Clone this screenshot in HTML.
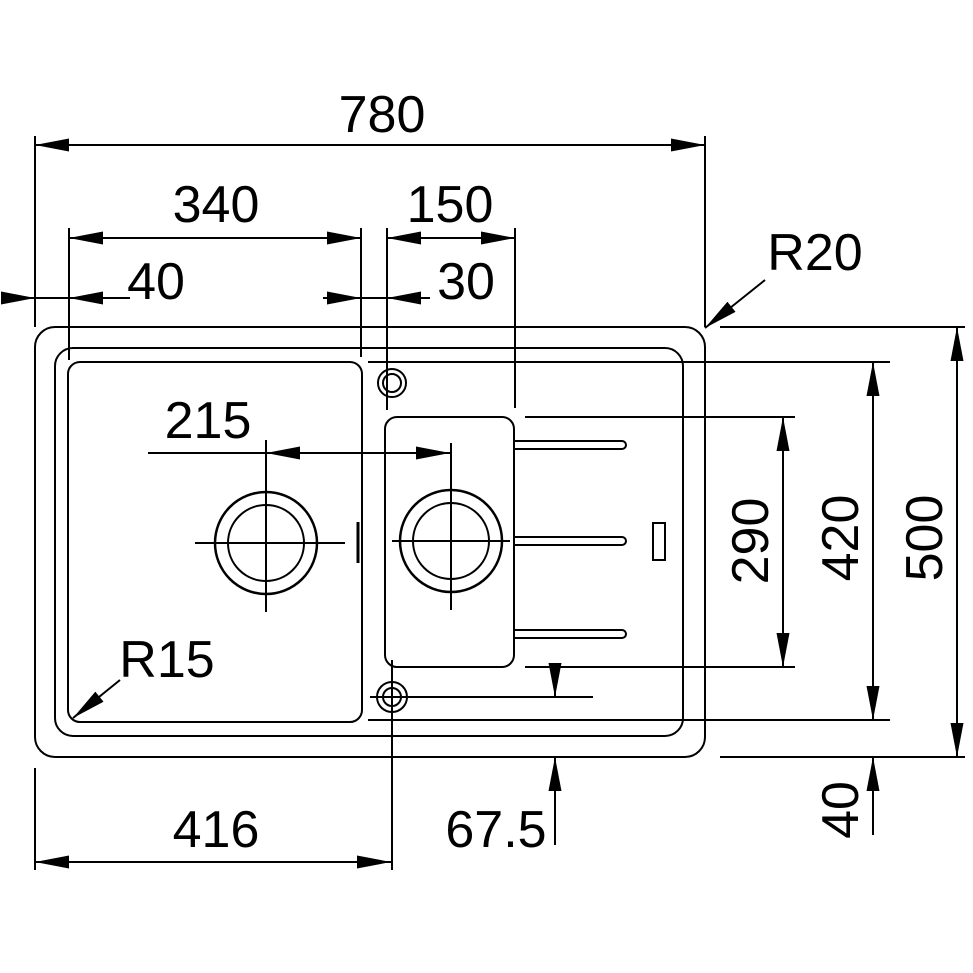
<!DOCTYPE html>
<html><head><style>html,body{margin:0;padding:0;background:#fff}svg{display:block}</style></head><body>
<svg width="973" height="973" viewBox="0 0 973 973" xmlns="http://www.w3.org/2000/svg">
<defs>
<marker id="a" viewBox="0 0 10 10" refX="10" refY="5" markerWidth="34" markerHeight="13" preserveAspectRatio="none" markerUnits="userSpaceOnUse" orient="auto-start-reverse"><path d="M0,0 L10,5 L0,10 Z" fill="#000"/></marker>
</defs>
<g fill="none" stroke="#000" stroke-width="2">
<rect x="35" y="327" width="670" height="430" rx="20"/>
<rect x="55" y="348" width="628" height="388" rx="18"/>
<rect x="68" y="362" width="294" height="360" rx="12"/>
<rect x="385" y="417" width="129" height="250" rx="12"/>
<circle cx="266" cy="543" r="51" stroke-width="2.5"/><circle cx="266" cy="543" r="38"/>
<circle cx="451" cy="541" r="51" stroke-width="2.5"/><circle cx="451" cy="541" r="38"/>
<circle cx="392" cy="383" r="14"/><circle cx="392" cy="383" r="9"/>
<circle cx="392" cy="697" r="15"/><circle cx="392" cy="697" r="9"/>
<path d="M514 441H622a4 4 0 0 1 0 8H514M514 537H622a4 4 0 0 1 0 8H514M514 630H622a4 4 0 0 1 0 8H514"/>
<rect x="653" y="523" width="12" height="37"/>
<path d="M358 522v41" stroke-width="3"/>
<path d="M195 543H345M266 440V612M392 541H510M451 443V610"/>
<path d="M35 136V327M705 136V327M69 228V360M361 228V357M387 228V410M515 228V408"/>
<path d="M368 362H890M368 720H890M525 417H795M525 667H795M720 327H965M720 757H965"/>
<path d="M35 768V870M392 660V870M370 697H593"/>
</g>
<g stroke="#000" stroke-width="2" fill="none">
<line x1="35" y1="145" x2="705" y2="145" marker-start="url(#a)" marker-end="url(#a)"/>
<line x1="69" y1="238" x2="361" y2="238" marker-start="url(#a)" marker-end="url(#a)"/>
<line x1="387" y1="238" x2="515" y2="238" marker-start="url(#a)" marker-end="url(#a)"/>
<line x1="5" y1="298" x2="35" y2="298" marker-end="url(#a)"/>
<line x1="35" y1="298" x2="130" y2="298"/>
<line x1="105" y1="298" x2="69" y2="298" marker-end="url(#a)"/>
<line x1="323" y1="298" x2="361" y2="298" marker-end="url(#a)"/>
<line x1="361" y1="298" x2="430" y2="298"/>
<line x1="420" y1="298" x2="387" y2="298" marker-end="url(#a)"/>
<line x1="148" y1="453" x2="450" y2="453" marker-end="url(#a)"/>
<line x1="305" y1="453" x2="266" y2="453" marker-end="url(#a)"/>
<line x1="765" y1="280" x2="705" y2="328" marker-end="url(#a)"/>
<line x1="120" y1="680" x2="73" y2="718" marker-end="url(#a)"/>
<line x1="783" y1="417" x2="783" y2="667" marker-start="url(#a)" marker-end="url(#a)"/>
<line x1="873" y1="362" x2="873" y2="720" marker-start="url(#a)" marker-end="url(#a)"/>
<line x1="957" y1="327" x2="957" y2="757" marker-start="url(#a)" marker-end="url(#a)"/>
<line x1="873" y1="835" x2="873" y2="757" marker-end="url(#a)"/>
<line x1="35" y1="862" x2="391" y2="862" marker-start="url(#a)" marker-end="url(#a)"/>
<line x1="555" y1="667" x2="555" y2="697" marker-end="url(#a)"/>
<line x1="555" y1="845" x2="555" y2="757" marker-end="url(#a)"/>
</g>
<g font-family="Liberation Sans, sans-serif" font-size="52" fill="#000" text-anchor="middle">
<text x="382" y="132">780</text>
<text x="216" y="222">340</text>
<text x="450" y="222">150</text>
<text x="156" y="299">40</text>
<text x="466" y="299">30</text>
<text x="208" y="438">215</text>
<text x="815" y="270">R20</text>
<text x="167" y="677">R15</text>
<text x="216" y="847">416</text>
<text x="496" y="847">67.5</text>
<text transform="translate(768,541) rotate(-90)">290</text>
<text transform="translate(858,538) rotate(-90)">420</text>
<text transform="translate(942,538) rotate(-90)">500</text>
<text transform="translate(858,810) rotate(-90)">40</text>
</g>
</svg>
</body></html>
